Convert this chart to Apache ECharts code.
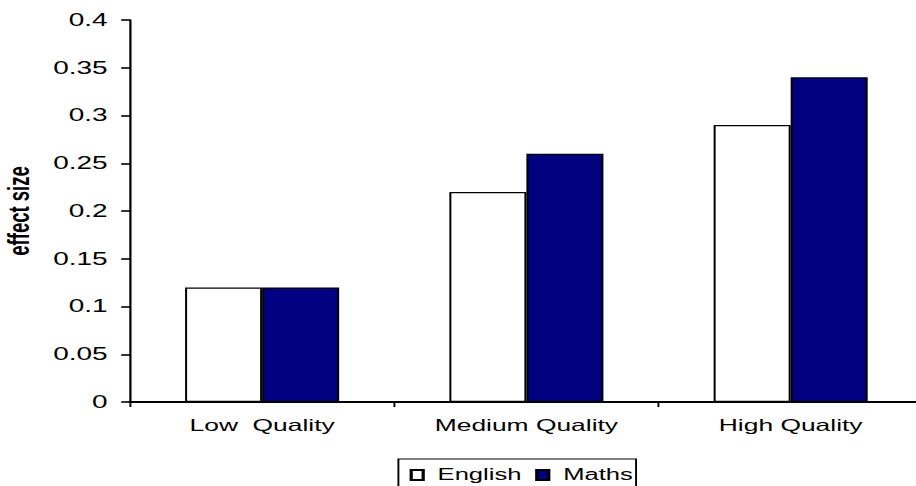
<!DOCTYPE html>
<html>
<head>
<meta charset="utf-8">
<script src="https://cdn.jsdelivr.net/npm/echarts@6/dist/echarts.min.js"></script>
<style>
  html, body { margin: 0; padding: 0; background: #fff; overflow: hidden; }
  /* The chart is laid out on a narrower canvas and widened 1.6x, which gives
     the broad, horizontally stretched lettering and heavier vertical strokes. */
  #chart {
    width: 572.5px;
    height: 486px;
    transform: scaleX(1.6);
    transform-origin: 0 0;
  }
</style>
</head>
<body>
<div id="chart"></div>
<script>
// Effect size by quality band, English vs Maths
const categories = ['Low  Quality', 'Medium Quality', 'High Quality'];
const englishValues = [0.12, 0.22, 0.29];
const mathsValues = [0.12, 0.26, 0.34];
const yTicks = { min: 0, max: 0.4, interval: 0.05 };

const chart = echarts.init(document.getElementById('chart'), null, { renderer: 'svg' });
const baseFont = 'Liberation Sans, Arial, sans-serif';

chart.setOption({
  animation: false,
  backgroundColor: '#ffffff',
  grid: {
    left: 81.25, right: -3.75, top: 20, bottom: 84,
    containLabel: false,
    outerBoundsMode: 'none'
  },
  legend: {
    data: ['English', 'Maths'],
    left: 249,
    top: 459,
    itemWidth: 7.5,
    itemHeight: 10,
    itemGap: 8.5,
    padding: [8, 2, 12, 7],
    borderColor: '#000',
    borderWidth: 1.2,
    borderRadius: 0,
    textStyle: { fontFamily: baseFont, fontSize: 16, color: '#000', padding: [0, 0, 0, 4] },
    icon: 'rect'
  },
  xAxis: {
    type: 'category',
    data: categories,
    axisLine: { lineStyle: { color: '#000', width: 2 } },
    axisTick: { show: true, length: 5, alignWithLabel: false, lineStyle: { color: '#000', width: 1.2 } },
    axisLabel: { fontFamily: baseFont, fontSize: 16.5, color: '#000', margin: 15 }
  },
  yAxis: {
    type: 'value',
    min: yTicks.min,
    max: yTicks.max,
    interval: yTicks.interval,
    name: 'effect size',
    nameLocation: 'middle',
    nameGap: 60,
    nameTextStyle: {
      fontFamily: 'Liberation Sans Narrow, Arial Narrow, Liberation Sans, sans-serif',
      fontWeight: 'bold',
      fontSize: 18.5,
      color: '#000'
    },
    splitLine: { show: false },
    axisLine: { show: true, lineStyle: { color: '#000', width: 1.4 } },
    axisTick: { show: true, length: 5.5, lineStyle: { color: '#000', width: 1.6 } },
    axisLabel: {
      fontFamily: baseFont,
      fontSize: 17.5,
      color: '#000',
      margin: 14,
      formatter: v => String(parseFloat(v.toFixed(2)))
    }
  },
  series: [
    {
      name: 'English',
      type: 'bar',
      data: englishValues,
      barGap: '0%',
      barCategoryGap: '41.7%',
      itemStyle: { color: '#ffffff', borderColor: '#000', borderWidth: 1.25 }
    },
    {
      name: 'Maths',
      type: 'bar',
      data: mathsValues,
      barGap: '0%',
      barCategoryGap: '41.7%',
      itemStyle: { color: '#000080', borderColor: '#000', borderWidth: 1.25 }
    }
  ]
});
</script>
</body>
</html>
